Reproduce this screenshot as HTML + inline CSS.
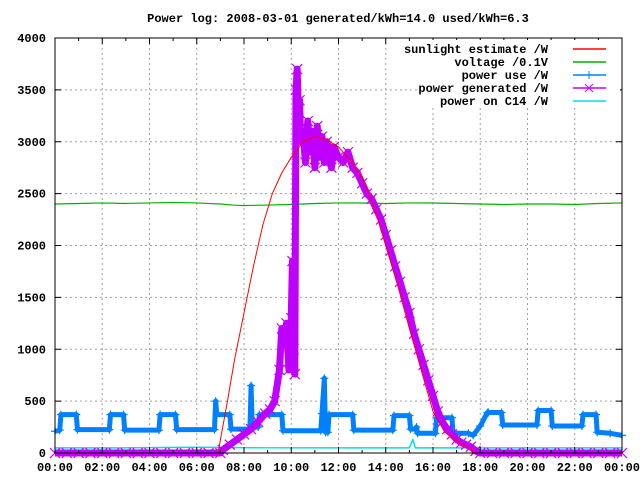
<!DOCTYPE html>
<html><head><meta charset="utf-8"><style>
body{margin:0;background:#fff}
svg text{font-family:"Liberation Mono",monospace;font-size:12px;font-weight:bold;fill:#000}
</style></head><body>
<svg id="chart" width="640" height="480" viewBox="0 0 640 480" xmlns="http://www.w3.org/2000/svg">
<rect width="640" height="480" fill="#fff"/>
<text x="338" y="22" text-anchor="middle">Power log: 2008-03-01 generated/kWh=14.0 used/kWh=6.3</text>
<g id="grid"></g>
<g id="series"></g>
<g id="axes"></g>
<g id="legend"></g>
</svg>
<script>
const yTicks=[0,500,1000,1500,2000,2500,3000,3500,4000];
const xTickLabels=["00:00","02:00","04:00","06:00","08:00","10:00","12:00","14:00","16:00","18:00","20:00","22:00","00:00"];
const sunT=[6.9,7.1,7.3,7.6,8.0,8.4,8.8,9.2,9.6,10.0,10.5,11.0,11.5,12.0,12.5,13.0,13.5,14.0,14.5,15.0,15.5,16.0,16.5,17.0,17.3,17.6,17.75];
const sunV=[0,250,500,900,1350,1800,2200,2500,2700,2850,3000,3050,3020,2950,2820,2650,2380,2000,1620,1200,800,400,200,120,80,40,0];
const voltT=[0,1,2,3,4,5,6,7,7.5,8,9,10,11,12,13,14,15,16,17,18,19,20,21,22,23,24];
const voltV=[2400,2405,2410,2405,2410,2415,2410,2400,2390,2385,2390,2395,2405,2410,2410,2405,2410,2410,2405,2400,2395,2400,2400,2395,2405,2410];
const useT=[0,0.2,0.25,0.9,0.95,2.3,2.35,2.9,2.95,4.4,4.45,5.1,5.15,6.75,6.8,6.85,7.4,7.45,8.25,8.3,8.35,8.6,8.65,9.6,9.65,11.25,11.3,11.4,11.45,11.55,11.6,12.6,12.65,14.3,14.35,15.0,15.05,15.25,15.3,15.35,16.1,16.15,16.8,16.85,17.5,17.7,18.0,18.3,18.35,18.9,18.95,20.4,20.45,21.0,21.05,22.3,22.35,22.9,22.95,23.5,24];
const useV=[210,220,370,370,225,225,370,370,220,220,370,370,225,225,500,370,370,230,230,650,250,250,370,370,215,215,380,720,200,200,370,370,220,220,360,360,230,230,250,190,190,340,340,190,190,170,260,390,390,390,270,270,410,410,260,260,370,370,200,190,170];
const genT=[0,0.5,1,1.5,2,2.5,3,3.5,4,4.5,5,5.5,6,6.5,7,7.1,7.4,7.7,8.0,8.3,8.6,8.9,9.1,9.3,9.5,9.6,9.7,9.8,9.9,10.0,10.05,10.1,10.15,10.2,10.25,10.3,10.35,10.4,10.5,10.6,10.7,10.8,10.9,11.0,11.1,11.2,11.3,11.4,11.5,11.6,11.7,11.8,12.0,12.2,12.4,12.6,12.8,13.0,13.2,13.4,13.6,13.8,14.0,14.2,14.4,14.6,14.8,15.0,15.2,15.4,15.6,15.8,16.0,16.2,16.4,16.6,16.8,17.0,17.2,17.4,17.6,17.8,18.0,18.5,19,19.5,20,20.5,21,21.5,22,22.5,23,23.5,24];
const genV=[0,0,0,0,0,0,0,0,0,0,0,0,0,0,0,30,80,130,180,230,300,380,420,500,800,1200,1100,1250,800,1300,1850,1000,760,3500,3700,3300,3400,3000,3100,2800,3200,2900,3100,2750,3150,2850,3050,2800,3000,2900,2750,2950,2850,2800,2900,2750,2700,2600,2500,2450,2350,2250,2100,1950,1800,1650,1500,1350,1150,1000,850,700,550,400,300,230,180,130,100,80,60,20,0,0,0,0,0,0,0,0,0,0,0,0,0];
const c14T=[0,3,6,9,12,15,15.15,15.25,15.4,18,21,24];
const c14V=[50,50,55,50,50,50,130,50,50,50,50,50];

const L=55,R=622,T=38,B=453;
const X=h=>L+(R-L)*h/24, Y=v=>B-(B-T)*v/4000;
const NS="http://www.w3.org/2000/svg";
function mk(tag,attrs,parent){const e=document.createElementNS(NS,tag);for(const k in attrs)e.setAttribute(k,attrs[k]);parent.appendChild(e);return e;}
const grid=document.getElementById('grid'),axes=document.getElementById('axes'),ser=document.getElementById('series'),leg=document.getElementById('legend');
yTicks.forEach(v=>{
  if(v>0&&v<4000){const g=mk('line',{x1:L,x2:R,y1:Y(v),y2:Y(v),stroke:'#a0a0a0','stroke-dasharray':'2,3'},grid);
  
  }
  const t=mk('text',{x:L-9,y:Y(v)+4,'text-anchor':'end'},axes);t.textContent=v;
  
  
  mk('line',{x1:L,x2:L+6,y1:Y(v),y2:Y(v),stroke:'#000'},axes);
  mk('line',{x1:R,x2:R-6,y1:Y(v),y2:Y(v),stroke:'#000'},axes);
});
xTickLabels.forEach((s,i)=>{
  const h=i*2;
  if(i>0&&i<12){const g=mk('line',{x1:X(h),x2:X(h),y1:T,y2:B,stroke:'#a0a0a0','stroke-dasharray':'2,3'},grid);
  
  }
  const t=mk('text',{x:X(h),y:471,'text-anchor':'middle'},axes);t.textContent=s;
  
  
  mk('line',{x1:X(h),x2:X(h),y1:B,y2:B-6,stroke:'#000'},axes);
  mk('line',{x1:X(h),x2:X(h),y1:T,y2:T+6,stroke:'#000'},axes);
  if(i<12){mk('line',{x1:X(h+1),x2:X(h+1),y1:B,y2:B-3,stroke:'#000'},axes);mk('line',{x1:X(h+1),x2:X(h+1),y1:T,y2:T+3,stroke:'#000'},axes);}
});
const border=mk('rect',{x:L,y:T,width:R-L,height:B-T,fill:'none',stroke:'#000'},axes);


function line(ts,vs,color,w,name){
  const p=mk('polyline',{points:ts.map((t,i)=>X(t)+','+Y(vs[i])).join(' '),fill:'none',stroke:color,'stroke-width':w,'stroke-linejoin':'round'},ser);
  
  
}
function markers(ts,vs,color,type,name,s){
  const g=mk('g',{stroke:color,'stroke-width':1.2},ser);
  
  
  ts.forEach((t,i)=>{const x=X(t),y=Y(vs[i]);
    if(type==='x'){mk('line',{x1:x-s,y1:y-s,x2:x+s,y2:y+s},g);mk('line',{x1:x-s,y1:y+s,x2:x+s,y2:y-s},g);}
    else{mk('line',{x1:x-s,y1:y,x2:x+s,y2:y},g);mk('line',{x1:x,y1:y-s,x2:x,y2:y+s},g);}
  });
}
line(c14T,c14V,'#00e0e0',1.5,'power-c14-line');
line(voltT,voltV,'#00b000',1.2,'voltage-line');
line(useT,useV,'#0080ff',5,'power-use-line');
markers(useT,useV,'#0080ff','+','power-use-markers',4);
line(genT,genV,'#c000ff',7,'power-generated-line');
markers(genT,genV,'#c000ff','x','power-generated-markers',5);
line(sunT,sunV,'#ff0000',1,'sunlight-estimate-line');
const lb=mk('rect',{x:420,y:40,width:200,height:68,fill:'#fff'},leg);


const entries=[["sunlight estimate /W","#ff0000",""],["voltage /0.1V","#00b000",""],["power use /W","#0080ff","+"],["power generated /W","#c000ff","x"],["power on C14 /W","#00e0e0",""]];
entries.forEach((e,i)=>{
  const y=49+i*13;
  const t=mk('text',{x:548,y:y+4,'text-anchor':'end'},leg);t.textContent=e[0];
  
  
  mk('line',{x1:573,x2:606,y1:y,y2:y,stroke:e[1],'stroke-width':1.5},leg);
  if(e[2]==='+'){mk('line',{x1:589,x2:589,y1:y-4,y2:y+4,stroke:e[1]},leg);}
  if(e[2]==='x'){mk('line',{x1:585,x2:593,y1:y-4,y2:y+4,stroke:e[1]},leg);mk('line',{x1:585,x2:593,y1:y+4,y2:y-4,stroke:e[1]},leg);}
});
</script>
</body></html>
